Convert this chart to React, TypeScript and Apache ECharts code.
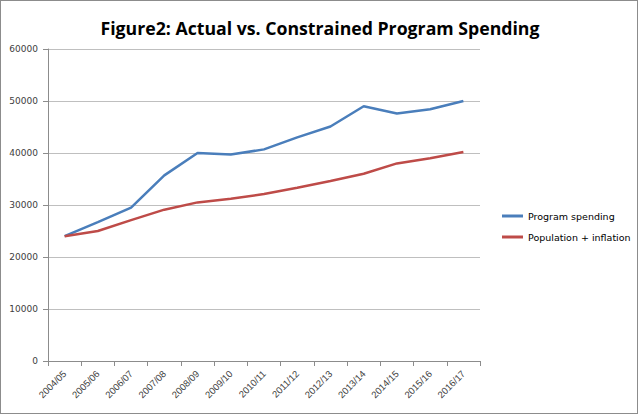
import React, { useEffect, useRef } from "react";
import * as echarts from "echarts";

const categories = [
  "2004/05", "2005/06", "2006/07", "2007/08", "2008/09", "2009/10", "2010/11",
  "2011/12", "2012/13", "2013/14", "2014/15", "2015/16", "2016/17",
];
const programSpending = [24000, 26700, 29500, 35700, 40000, 39700, 40700, 43000, 45100, 49000, 47600, 48400, 50000];
const populationInflation = [24000, 25000, 27100, 29100, 30500, 31200, 32100, 33300, 34600, 36000, 38000, 39000, 40200];
const seriesNames = ["Program spending", "Population + inflation"];
const titleText = "Figure2: Actual vs. Constrained Program Spending";

export default function App() {
  const ref = useRef<HTMLDivElement>(null);
  useEffect(() => {
    document.body.style.margin = "0";
    const chart = echarts.init(ref.current!, null, { renderer: "svg" });
    const labelColor = "#404040";
    chart.setOption({
      animation: false,
      backgroundColor: "#ffffff",
      title: {
        text: titleText,
        left: "center",
        top: 14,
        textStyle: {
          fontFamily: "Open Sans",
          fontWeight: "bold",
          fontSize: 17.7,
          color: "#000000",
        },
      },
      legend: {
        orient: "vertical",
        left: 497,
        top: 206,
        icon: "rect",
        itemWidth: 21,
        itemHeight: 3,
        itemGap: 11,
        textStyle: { fontFamily: "DejaVu Sans", fontSize: 9.5, color: "#000000" },
        data: seriesNames,
      },
      grid: { left: 48, right: 160, top: 49, bottom: 55, containLabel: false },
      xAxis: {
        type: "category",
        data: categories,
        boundaryGap: true,
        axisLine: { lineStyle: { color: "#8c8c8c", width: 1 } },
        axisTick: { show: true, length: 5, lineStyle: { color: "#8c8c8c" }, alignWithLabel: false },
        axisLabel: {
          rotate: 45,
          interval: 0,
          fontFamily: "Liberation Sans",
          fontSize: 9.5,
          color: labelColor,
          margin: 11,
        },
      },
      yAxis: {
        type: "value",
        min: 0,
        max: 60000,
        interval: 10000,
        axisLine: { show: true, lineStyle: { color: "#8c8c8c", width: 1 } },
        axisTick: { show: true, length: 5, lineStyle: { color: "#8c8c8c" } },
        axisLabel: {
          fontFamily: "DejaVu Sans",
          fontSize: 9,
          color: labelColor,
          margin: 10,
          formatter: (v: number) => String(v),
        },
        splitLine: { lineStyle: { color: "#bfbfbf", width: 1 } },
      },
      series: [
        {
          name: seriesNames[0],
          type: "line",
          data: programSpending,
          showSymbol: false,
          symbol: "none",
          lineStyle: { color: "#4a7ebb", width: 2.5 },
          itemStyle: { color: "#4a7ebb" },
        },
        {
          name: seriesNames[1],
          type: "line",
          data: populationInflation,
          showSymbol: false,
          symbol: "none",
          lineStyle: { color: "#be4b48", width: 2.5 },
          itemStyle: { color: "#be4b48" },
        },
      ],
    });
    return () => chart.dispose();
  }, []);
  return (
    <div style={{ width: 640, height: 416, position: "relative", background: "#fff" }}>
      <div ref={ref} style={{ width: 640, height: 416, position: "absolute", left: 0, top: 0 }} />
      <div
        style={{
          position: "absolute",
          left: 0,
          top: 0,
          width: 638,
          height: 414,
          boxSizing: "border-box",
          border: "1px solid #8c8c8c",
          pointerEvents: "none",
        }}
      />
    </div>
  );
}
